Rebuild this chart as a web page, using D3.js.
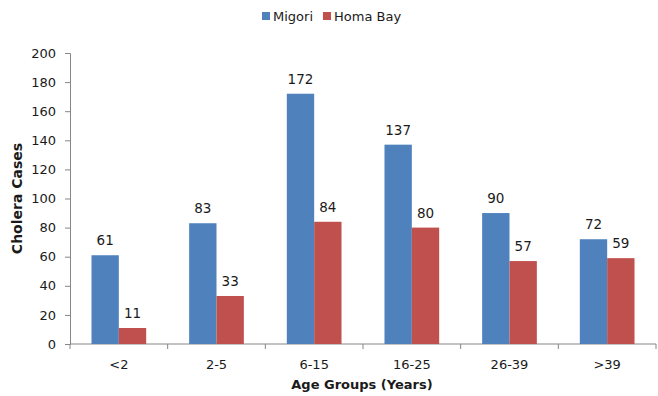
<!DOCTYPE html>
<html>
<head>
<meta charset="utf-8">
<script src="https://cdn.jsdelivr.net/npm/d3@7"></script>
<style>
  body { margin: 0; background: #fff; }
  text { font-family: "DejaVu Sans", Verdana, sans-serif; fill: #1a1a1a; }
</style>
</head>
<body>
<div id="chart"></div>
<script>
// data
var ageGroups = ["<2", "2-5", "6-15", "16-25", "26-39", ">39"];
var migori = [61, 83, 172, 137, 90, 72];
var homaBay = [11, 33, 84, 80, 57, 59];
var seriesNames = ["Migori", "Homa Bay"];
var yTicks = [0, 20, 40, 60, 80, 100, 120, 140, 160, 180, 200];

var W = 658, H = 396;
var margin = { top: 53, right: 2, bottom: 52, left: 70 };
var width = W - margin.left - margin.right;
var height = H - margin.top - margin.bottom;

var colors = ["#4f81bd", "#c0504d"];

var svg = d3.select("#chart").append("svg")
    .attr("width", W)
    .attr("height", H);

var g = svg.append("g")
    .attr("transform", "translate(" + margin.left + "," + margin.top + ")");

//----------------------------SCALES----------------------------//
var x0 = d3.scaleBand().domain(ageGroups).range([0, width])
    .paddingInner(0.44).paddingOuter(0.22);
var x1 = d3.scaleBand().domain(seriesNames).range([0, x0.bandwidth()]);
var y = d3.scaleLinear().domain([0, 200]).range([height, 0]);

//-----------------------------AXES-----------------------------//
var yAxis = g.append("g")
    .call(d3.axisLeft(y).tickValues(yTicks).tickSize(5).tickPadding(9));
yAxis.select(".domain").attr("stroke", "#868686");
yAxis.selectAll(".tick line").attr("stroke", "#868686");
yAxis.selectAll(".tick text").style("font-size", "13px");

// x axis: ticks sit between categories
var step = x0.step();
var xAxis = g.append("g").attr("transform", "translate(0," + height + ")");
xAxis.append("line")
    .attr("x1", 0).attr("x2", width)
    .attr("stroke", "#868686");
xAxis.selectAll(".sep")
    .data(d3.range(ageGroups.length + 1))
    .enter().append("line")
    .attr("x1", function(i) { return i * step; })
    .attr("x2", function(i) { return i * step; })
    .attr("y1", 0).attr("y2", 5)
    .attr("stroke", "#868686");
xAxis.selectAll(".lab")
    .data(ageGroups)
    .enter().append("text")
    .attr("x", function(d) { return x0(d) + x0.bandwidth() / 2; })
    .attr("y", 25)
    .attr("text-anchor", "middle")
    .style("font-size", "13px")
    .text(function(d) { return d; });

//----------------------------BARS------------------------------//
var rows = ageGroups.map(function(a, i) {
    return { group: a, values: [
        { name: seriesNames[0], v: migori[i] },
        { name: seriesNames[1], v: homaBay[i] }
    ] };
});

var groups = g.selectAll(".grp")
    .data(rows)
    .enter().append("g")
    .attr("transform", function(d) { return "translate(" + x0(d.group) + ",0)"; });

groups.selectAll("rect")
    .data(function(d) { return d.values; })
    .enter().append("rect")
    .attr("x", function(d) { return x1(d.name); })
    .attr("y", function(d) { return y(d.v); })
    .attr("width", x1.bandwidth())
    .attr("height", function(d) { return height - y(d.v); })
    .attr("fill", function(d, i) { return colors[i]; });

groups.selectAll(".val")
    .data(function(d) { return d.values; })
    .enter().append("text")
    .attr("x", function(d) { return x1(d.name) + x1.bandwidth() / 2; })
    .attr("y", function(d) { return y(d.v) - 10; })
    .attr("text-anchor", "middle")
    .style("font-size", "13.5px")
    .text(function(d) { return d.v; });

//---------------------------TITLES-----------------------------//
svg.append("text")
    .attr("transform", "translate(22," + (margin.top + height / 2) + ") rotate(-90)")
    .attr("text-anchor", "middle")
    .style("font-size", "14px")
    .style("font-weight", "bold")
    .text("Cholera Cases");

svg.append("text")
    .attr("x", 362)
    .attr("y", 389)
    .attr("text-anchor", "middle")
    .style("font-size", "13px")
    .style("font-weight", "bold")
    .text("Age Groups (Years)");

//---------------------------LEGEND-----------------------------//
var legendX = [262, 323];
var legend = svg.selectAll(".leg")
    .data(seriesNames)
    .enter().append("g")
    .attr("transform", function(d, i) { return "translate(" + legendX[i] + ",12)"; });
legend.append("rect")
    .attr("width", 8).attr("height", 8)
    .attr("fill", function(d, i) { return colors[i]; });
legend.append("text")
    .attr("x", 11).attr("y", 9)
    .style("font-size", "13px")
    .text(function(d) { return d; });
</script>
</body>
</html>
